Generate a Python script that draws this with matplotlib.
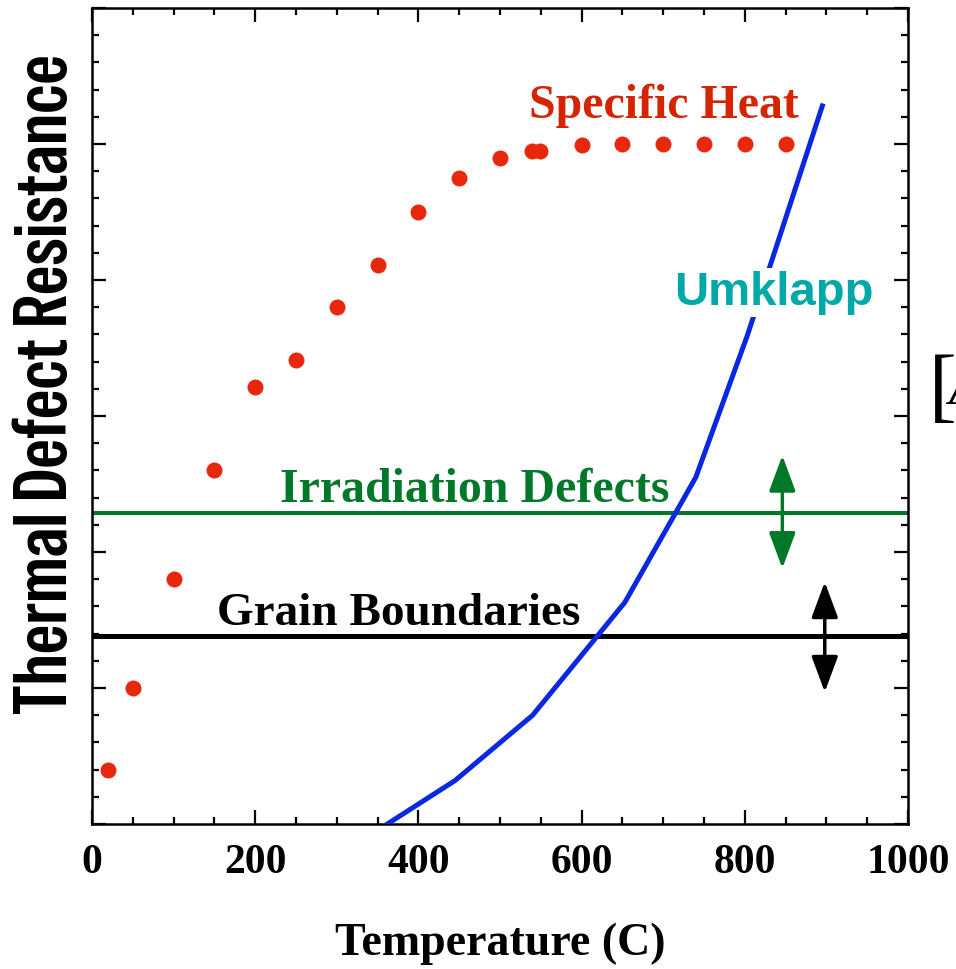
# Thermal defect resistance vs temperature - schematic chart
import numpy as np
import matplotlib.pyplot as plt

# ---------------------------------------------------------
# data
# ---------------------------------------------------------

# specific heat points (red dots)
heat_temp = [20, 50, 100, 150, 200, 250, 300, 350, 400, 450, 500,
             539, 549, 600, 650, 700, 750, 800, 850]
heat_val = [0.40, 1.00, 1.80, 2.60, 3.21, 3.41, 3.80, 4.11, 4.50, 4.75, 4.90,
            4.95, 4.95, 4.99, 5.00, 5.00, 5.00, 5.00, 5.00]

# umklapp curve (blue line)
umk_temp = [362, 445, 540, 653, 740, 803, 895]
umk_val = [0.0, 0.32, 0.80, 1.63, 2.55, 3.59, 5.28]

# constant contributions
irradiation_level = 2.29
grain_level = 1.38

# double arrows: x, y_low, y_high
irr_arrow = [846, 1.88, 2.71]
grain_arrow = [898, 0.97, 1.78]

x_ticks = [0, 200, 400, 600, 800, 1000]

serif = "Liberation Serif"
sans = "Liberation Sans"

# ---------------------------------------------------------
# figure
# ---------------------------------------------------------
fig = plt.figure(figsize=(9.56, 9.70), dpi=100)
ax = fig.add_axes([92 / 956, 1 - 825 / 970, 816 / 956, 816 / 970])

ax.set_xlim(0, 1000)
ax.set_ylim(0, 6)

ax.axhline(grain_level, color="black", lw=3.6, zorder=2)
ax.axhline(irradiation_level, color="#00782a", lw=2.9, zorder=2)

ax.plot(umk_temp, umk_val, color="#0a28e0", lw=3.6, zorder=3,
        solid_joinstyle="miter")

ax.plot(heat_temp, heat_val, "o", color="#e8280c", ms=11.5, mec="none",
        zorder=4)

# double arrows
arrow_style = "<|-|>,head_length=1.0,head_width=0.37"
ax.annotate("", xy=(irr_arrow[0], irr_arrow[1]),
            xytext=(irr_arrow[0], irr_arrow[2]),
            arrowprops=dict(arrowstyle=arrow_style, mutation_scale=22,
                            color="#00782a", lw=2.5, shrinkA=0, shrinkB=0))
ax.annotate("", xy=(grain_arrow[0], grain_arrow[1]),
            xytext=(grain_arrow[0], grain_arrow[2]),
            arrowprops=dict(arrowstyle=arrow_style, mutation_scale=22,
                            color="black", lw=2.5, shrinkA=0, shrinkB=0))

# labels inside the plot
ax.text(701, 5.195, "Specific Heat", color="#d42400", fontsize=34.5,
        family=serif, weight="bold", ha="center", va="baseline")
ax.text(836, 3.82, "Umklapp", color="#00a8a8", fontsize=34,
        family=sans, weight="bold", ha="center", va="baseline", zorder=5,
        bbox=dict(facecolor="white", edgecolor="none", pad=2))
ax.text(469, 2.377, "Irradiation Defects", color="#00782a", fontsize=34.5,
        family=serif, weight="bold", ha="center", va="baseline")
ax.text(376, 1.472, "Grain Boundaries", color="black", fontsize=34,
        family=serif, weight="bold", ha="center", va="baseline")

# ticks
ax.set_xticks(x_ticks)
ax.set_xticks(np.arange(0, 1001, 50), minor=True)
ax.set_yticks(np.arange(0, 6.01, 1))
ax.set_yticks(np.arange(0, 6.01, 0.2), minor=True)
ax.set_yticklabels([])
ax.set_xticklabels([str(t) for t in x_ticks], family=serif,
                   weight="bold", fontsize=30)
ax.tick_params(which="both", direction="in", top=True, right=True,
               width=1.6, colors="black")
ax.tick_params(which="major", length=10, pad=14)
ax.tick_params(which="minor", length=5)
for s in ax.spines.values():
    s.set_linewidth(1.8)

ax.set_xlabel("Temperature (C)", family=serif, weight="bold", fontsize=33,
              labelpad=29)

ax.set_ylabel("Thermal Defect Resistance",
              family=["Special Gothic Condensed One", sans],
              fontsize=54, va="center")
ax.yaxis.set_label_coords(-0.056, 0.54)

# cut-off equation bracket at the right edge
fig.text(929 / 956, 1 - 392 / 970, "[", family=serif, fontsize=60,
         ha="left", va="center")
fig.text(948 / 956, 1 - 404 / 970, "A", family=serif, style="italic",
         fontsize=40, ha="left", va="baseline")

fig.savefig("out.png", dpi=100)
